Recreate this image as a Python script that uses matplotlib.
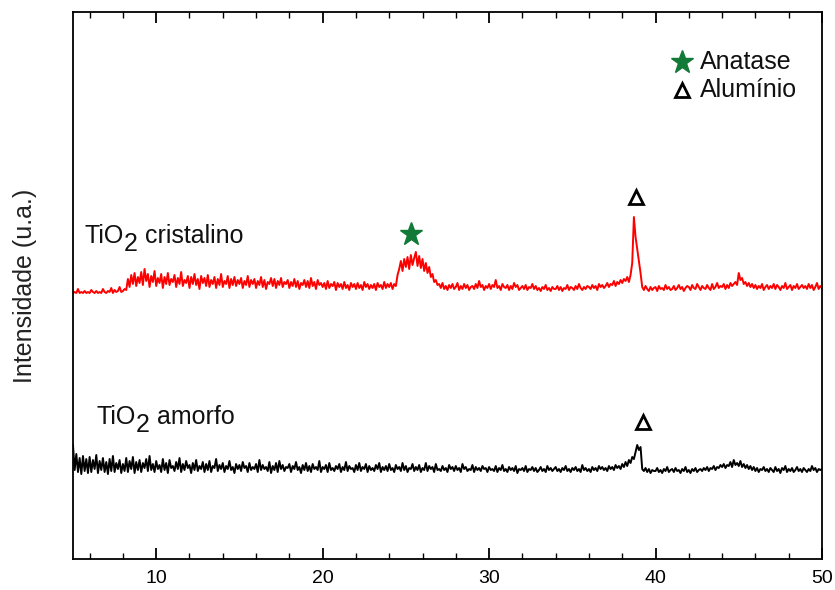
import matplotlib.pyplot as plt
import numpy as np
from matplotlib.ticker import MultipleLocator

plt.rcParams['font.family'] = ['Liberation Sans', 'DejaVu Sans']

# 2theta grid, one reading every 0.1 degree from 5 to 50
two_theta = np.round(np.arange(5.0, 50.0001, 0.1), 1)

# TiO2 cristalino, counts above its own baseline (one row = one degree)
cristalino = [
    0, 1, 0, 4, 0, 1, 0, 2, 0, 1,
    0, 3, 1, 0, 2, 0, 1, 0, 4, 1,
    0, 2, 1, 5, 0, 3, 1, 2, 6, 1,
    2, 4, 3, 14, 6, 18, 9, 20, 7, 16,
    10, 21, 8, 24, 12, 19, 6, 17, 11, 22,
    7, 15, 10, 19, 5, 16, 9, 20, 8, 14,
    11, 18, 6, 15, 9, 21, 7, 13, 10, 17,
    5, 16, 9, 19, 8, 14, 4, 17, 10, 15,
    7, 18, 6, 13, 9, 16, 5, 14, 8, 19,
    6, 12, 9, 17, 5, 14, 8, 16, 7, 13,
    9, 15, 5, 12, 8, 17, 6, 13, 9, 14,
    5, 12, 8, 16, 6, 13, 4, 11, 9, 15,
    7, 14, 5, 12, 8, 15, 6, 11, 9, 13,
    5, 11, 7, 14, 6, 12, 4, 10, 8, 13,
    6, 12, 5, 15, 7, 11, 4, 13, 8, 10,
    6, 10, 4, 12, 5, 9, 7, 11, 3, 10,
    6, 9, 4, 11, 5, 8, 3, 10, 6, 9,
    4, 10, 5, 8, 3, 11, 6, 9, 4, 8,
    5, 9, 3, 10, 6, 8, 4, 11, 5, 9,
    6, 10, 4, 9, 7, 18, 24, 32, 22, 34,
    26, 36, 24, 38, 28, 35, 41, 27, 37, 25,
    34, 22, 30, 20, 26, 16, 19, 11, 13, 8,
    9, 5, 10, 4, 7, 3, 8, 5, 9, 4,
    6, 10, 3, 7, 4, 9, 5, 8, 3, 6,
    7, 4, 9, 5, 12, 6, 8, 3, 7, 5,
    9, 4, 8, 6, 13, 5, 7, 3, 9, 6,
    5, 8, 3, 7, 4, 10, 6, 8, 3, 5,
    7, 4, 8, 3, 6, 5, 9, 4, 7, 3,
    5, 2, 6, 4, 8, 3, 5, 2, 6, 4,
    4, 7, 3, 6, 2, 5, 4, 8, 3, 6,
    5, 3, 7, 4, 9, 5, 3, 6, 4, 7,
    6, 4, 8, 5, 7, 3, 9, 6, 8, 5,
    7, 10, 6, 9, 8, 12, 7, 11, 9, 13,
    10, 14, 12, 16, 11, 18, 30, 76, 56, 44,
    32, 20, 6, 3, 7, 4, 2, 6, 3, 5,
    6, 2, 7, 4, 5, 3, 8, 4, 6, 3,
    4, 7, 3, 5, 8, 4, 6, 2, 5, 7,
    6, 3, 8, 5, 4, 9, 6, 3, 7, 5,
    4, 8, 5, 3, 9, 4, 6, 10, 5, 7,
    6, 9, 4, 8, 5, 10, 7, 9, 11, 8,
    20, 13, 15, 9, 11, 7, 10, 6, 9, 5,
    8, 4, 7, 5, 9, 3, 6, 8, 4, 7,
    5, 9, 4, 8, 6, 3, 7, 5, 10, 4,
    6, 8, 3, 7, 5, 9, 4, 6, 8, 5,
    7, 4, 9, 5, 8, 3, 6, 10, 4, 7,
    5,
]

# TiO2 amorfo, counts above its own baseline
amorfo = [
    33, 8, 24, 6, 20, 4, 22, 7, 19, 5,
    21, 6, 18, 9, 23, 5, 17, 8, 20, 6,
    16, 4, 19, 7, 22, 6, 15, 9, 18, 5,
    14, 7, 20, 6, 17, 9, 21, 5, 16, 8,
    18, 6, 15, 10, 19, 7, 22, 8, 14, 6,
    17, 9, 13, 6, 19, 8, 15, 5, 18, 10,
    12, 7, 16, 9, 20, 6, 14, 8, 17, 10,
    13, 5, 15, 8, 18, 7, 12, 9, 16, 6,
    14, 8, 17, 6, 12, 10, 19, 7, 13, 9,
    15, 6, 12, 9, 17, 8, 11, 5, 14, 9,
    13, 7, 16, 10, 12, 6, 15, 8, 11, 9,
    14, 6, 18, 8, 13, 9, 11, 7, 16, 5,
    12, 8, 15, 6, 17, 9, 13, 7, 11, 10,
    14, 6, 12, 9, 16, 8, 11, 5, 13, 8,
    15, 7, 12, 6, 14, 9, 11, 8, 17, 6,
    11, 9, 13, 6, 15, 8, 10, 7, 12, 9,
    14, 6, 11, 8, 16, 7, 12, 9, 10, 6,
    13, 8, 15, 7, 11, 9, 14, 6, 12, 8,
    10, 7, 13, 9, 15, 6, 11, 8, 12, 7,
    14, 8, 10, 6, 13, 9, 11, 7, 15, 8,
    12, 6, 10, 9, 14, 7, 11, 8, 13, 6,
    10, 8, 15, 7, 12, 9, 11, 6, 14, 8,
    9, 7, 12, 8, 10, 6, 13, 9, 11, 7,
    12, 8, 10, 6, 14, 9, 11, 7, 9, 8,
    13, 6, 11, 8, 10, 7, 12, 9, 10, 6,
    11, 8, 9, 7, 12, 6, 10, 8, 13, 7,
    9, 6, 11, 8, 10, 7, 12, 5, 9, 8,
    10, 7, 12, 6, 9, 8, 11, 7, 10, 6,
    8, 11, 7, 9, 6, 12, 8, 10, 7, 9,
    11, 7, 9, 6, 10, 8, 12, 7, 9, 6,
    10, 8, 11, 7, 9, 6, 13, 8, 10, 7,
    9, 6, 11, 8, 10, 7, 12, 9, 11, 8,
    10, 7, 12, 9, 11, 8, 13, 10, 12, 9,
    14, 11, 16, 12, 18, 15, 21, 19, 26, 33,
    28, 31, 9, 7, 10, 6, 9, 5, 8, 7,
    7, 10, 6, 8, 5, 9, 7, 11, 6, 8,
    9, 6, 10, 7, 8, 5, 9, 7, 11, 6,
    8, 5, 9, 7, 10, 6, 8, 9, 7, 10,
    8, 11, 7, 10, 9, 12, 8, 11, 10, 13,
    11, 14, 10, 13, 12, 16, 11, 18, 13, 15,
    12, 17, 11, 14, 10, 13, 9, 12, 8, 11,
    7, 10, 6, 9, 8, 11, 7, 9, 6, 10,
    8, 6, 11, 7, 9, 5, 10, 8, 12, 6,
    9, 7, 10, 6, 8, 11, 7, 9, 6, 10,
    8, 6, 9, 7, 12, 8, 10, 6, 9, 8,
    9,
]

# peak positions of each phase (2theta)
anatase_peaks = [25.3]
aluminio_cristalino = [38.85]
aluminio_amorfo = [39.25]

# vertical shift used to stack the two patterns
offset_cristalino = 266
offset_amorfo = 81

green = '#127a36'

y_cris = np.array(cristalino) + offset_cristalino
y_amor = np.array(amorfo) + offset_amorfo

fig = plt.figure(figsize=(8.35, 5.9), dpi=100)
ax = fig.add_axes([0.0874, 0.0525, 0.897, 0.9272])

ax.plot(two_theta, y_cris, color='#ff0000', lw=1.4)
ax.plot(two_theta, y_amor, color='black', lw=1.4)


def peak_top(x, y, x0, win=0.4):
    sel = np.abs(x - x0) <= win
    return y[sel].max()


star_kw = dict(marker='*', ms=17, color=green, mec=green, ls='none')
tri_kw = dict(marker='^', ms=10, mfc='white', mec='black', mew=2, ls='none')

for p in anatase_peaks:
    ax.plot(p, peak_top(two_theta, y_cris, p) + 18, **star_kw)
for p in aluminio_cristalino:
    ax.plot(p, peak_top(two_theta, y_cris, p) + 20, **tri_kw)
for p in aluminio_amorfo:
    ax.plot(p, peak_top(two_theta, y_amor, p) + 23, **tri_kw)


# labels with a full size, lowered "2"
def tio2_label(x, y, rest):
    t1 = ax.text(x, y, 'TiO', fontsize=18, va='baseline', color='#111111')
    t2 = ax.annotate('2', xy=(1, 0), xycoords=t1, xytext=(0, -5.5),
                     textcoords='offset points', fontsize=18,
                     va='bottom', color='#111111')
    ax.annotate(rest, xy=(1, 0), xycoords=t2, xytext=(0, 5.5),
                textcoords='offset points', fontsize=18,
                va='bottom', color='#111111')


tio2_label(5.7, 316, ' cristalino')
tio2_label(6.4, 135, ' amorfo')

# key in the upper right corner
ax.plot(0.813, 0.909, transform=ax.transAxes, **star_kw)
ax.plot(0.813, 0.857, transform=ax.transAxes, **tri_kw)
ax.text(0.837, 0.909, 'Anatase', transform=ax.transAxes, fontsize=18,
        va='center', color='#111111')
ax.text(0.837, 0.857, 'Alumínio', transform=ax.transAxes, fontsize=18,
        va='center', color='#111111')

ax.set_xlim(5, 50)
ax.set_ylim(0, 547)
ax.set_yticks([])
ax.xaxis.set_major_locator(MultipleLocator(10))
ax.xaxis.set_minor_locator(MultipleLocator(2))
ax.tick_params(axis='x', which='both', direction='in', top=True,
               labelsize=14, colors='black', pad=8)
ax.tick_params(axis='x', which='major', length=8, width=1.3)
ax.tick_params(axis='x', which='minor', length=4, width=1.0)
for s in ax.spines.values():
    s.set_linewidth(1.3)
ax.set_ylabel('Intensidade (u.a.)', fontsize=18, color='#222222', labelpad=26)

fig.savefig('out.png', dpi=100)
